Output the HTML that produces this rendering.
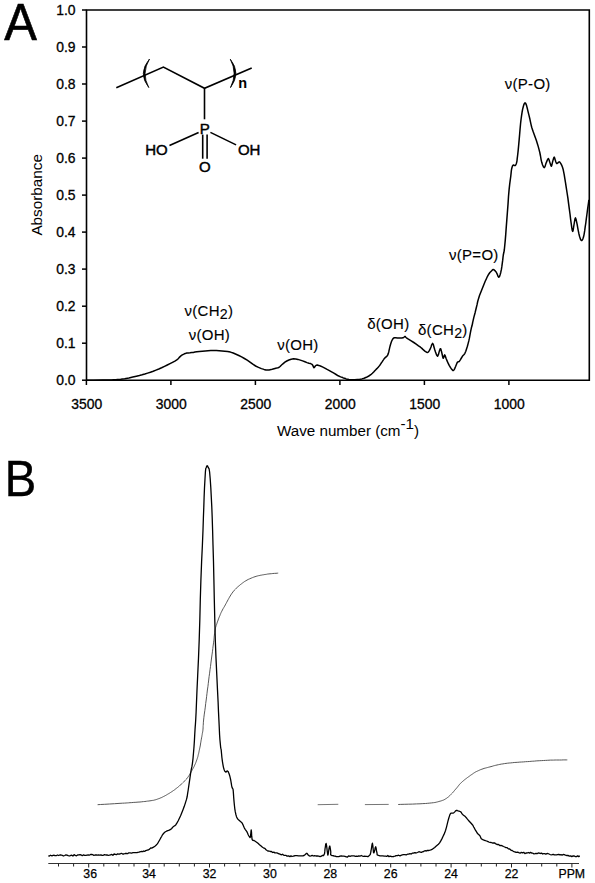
<!DOCTYPE html>
<html><head><meta charset="utf-8"><style>
html,body{margin:0;padding:0;background:#fff;}
body{width:595px;height:883px;overflow:hidden;font-family:"Liberation Sans",sans-serif;}
svg{display:block;}
</style></head><body>
<svg width="595" height="883" viewBox="0 0 595 883">
<text transform="translate(4.2 39.7) scale(0.96 1)" font-size="51" stroke="#000" stroke-width="0.6" font-family="'Liberation Sans', sans-serif">A</text>
<text transform="translate(4.6 495.6) scale(0.95 1)" font-size="50.3" stroke="#000" stroke-width="0.3" font-family="'Liberation Sans', sans-serif">B</text>
<path d="M86.5 10 H589.3 V380.2 H86.5 Z" fill="none" stroke="#000" stroke-width="1.6"/>
<line x1="82" y1="380.2" x2="86.5" y2="380.2" stroke="#000" stroke-width="1.5"/>
<text x="75.6" y="385.1" font-size="13.9" text-anchor="end" stroke="#000" stroke-width="0.3" font-family="'Liberation Sans', sans-serif">0.0</text>
<line x1="82" y1="343.2" x2="86.5" y2="343.2" stroke="#000" stroke-width="1.5"/>
<text x="75.6" y="348.1" font-size="13.9" text-anchor="end" stroke="#000" stroke-width="0.3" font-family="'Liberation Sans', sans-serif">0.1</text>
<line x1="82" y1="306.2" x2="86.5" y2="306.2" stroke="#000" stroke-width="1.5"/>
<text x="75.6" y="311.1" font-size="13.9" text-anchor="end" stroke="#000" stroke-width="0.3" font-family="'Liberation Sans', sans-serif">0.2</text>
<line x1="82" y1="269.1" x2="86.5" y2="269.1" stroke="#000" stroke-width="1.5"/>
<text x="75.6" y="274" font-size="13.9" text-anchor="end" stroke="#000" stroke-width="0.3" font-family="'Liberation Sans', sans-serif">0.3</text>
<line x1="82" y1="232.1" x2="86.5" y2="232.1" stroke="#000" stroke-width="1.5"/>
<text x="75.6" y="237" font-size="13.9" text-anchor="end" stroke="#000" stroke-width="0.3" font-family="'Liberation Sans', sans-serif">0.4</text>
<line x1="82" y1="195.1" x2="86.5" y2="195.1" stroke="#000" stroke-width="1.5"/>
<text x="75.6" y="200" font-size="13.9" text-anchor="end" stroke="#000" stroke-width="0.3" font-family="'Liberation Sans', sans-serif">0.5</text>
<line x1="82" y1="158.1" x2="86.5" y2="158.1" stroke="#000" stroke-width="1.5"/>
<text x="75.6" y="163" font-size="13.9" text-anchor="end" stroke="#000" stroke-width="0.3" font-family="'Liberation Sans', sans-serif">0.6</text>
<line x1="82" y1="121.1" x2="86.5" y2="121.1" stroke="#000" stroke-width="1.5"/>
<text x="75.6" y="126" font-size="13.9" text-anchor="end" stroke="#000" stroke-width="0.3" font-family="'Liberation Sans', sans-serif">0.7</text>
<line x1="82" y1="84" x2="86.5" y2="84" stroke="#000" stroke-width="1.5"/>
<text x="75.6" y="88.9" font-size="13.9" text-anchor="end" stroke="#000" stroke-width="0.3" font-family="'Liberation Sans', sans-serif">0.8</text>
<line x1="82" y1="47" x2="86.5" y2="47" stroke="#000" stroke-width="1.5"/>
<text x="75.6" y="51.9" font-size="13.9" text-anchor="end" stroke="#000" stroke-width="0.3" font-family="'Liberation Sans', sans-serif">0.9</text>
<line x1="82" y1="10" x2="86.5" y2="10" stroke="#000" stroke-width="1.5"/>
<text x="75.6" y="14.9" font-size="13.9" text-anchor="end" stroke="#000" stroke-width="0.3" font-family="'Liberation Sans', sans-serif">1.0</text>
<line x1="86.4" y1="380.2" x2="86.4" y2="385" stroke="#000" stroke-width="1.5"/>
<text x="86.7" y="409.0" font-size="13.9" text-anchor="middle" stroke="#000" stroke-width="0.3" font-family="'Liberation Sans', sans-serif">3500</text>
<line x1="170.9" y1="380.2" x2="170.9" y2="385" stroke="#000" stroke-width="1.5"/>
<text x="171.2" y="409.0" font-size="13.9" text-anchor="middle" stroke="#000" stroke-width="0.3" font-family="'Liberation Sans', sans-serif">3000</text>
<line x1="255.4" y1="380.2" x2="255.4" y2="385" stroke="#000" stroke-width="1.5"/>
<text x="255.7" y="409.0" font-size="13.9" text-anchor="middle" stroke="#000" stroke-width="0.3" font-family="'Liberation Sans', sans-serif">2500</text>
<line x1="339.9" y1="380.2" x2="339.9" y2="385" stroke="#000" stroke-width="1.5"/>
<text x="340.2" y="409.0" font-size="13.9" text-anchor="middle" stroke="#000" stroke-width="0.3" font-family="'Liberation Sans', sans-serif">2000</text>
<line x1="424.4" y1="380.2" x2="424.4" y2="385" stroke="#000" stroke-width="1.5"/>
<text x="424.7" y="409.0" font-size="13.9" text-anchor="middle" stroke="#000" stroke-width="0.3" font-family="'Liberation Sans', sans-serif">1500</text>
<line x1="508.9" y1="380.2" x2="508.9" y2="385" stroke="#000" stroke-width="1.5"/>
<text x="509.2" y="409.0" font-size="13.9" text-anchor="middle" stroke="#000" stroke-width="0.3" font-family="'Liberation Sans', sans-serif">1000</text>
<text x="277" y="436.2" font-size="15.2" font-family="'Liberation Sans', sans-serif">Wave number (cm<tspan dy="-7.6">-1</tspan><tspan dy="7.6">)</tspan></text>
<text transform="translate(42.3 194.8) rotate(-90)" font-size="15.3" text-anchor="middle" font-family="'Liberation Sans', sans-serif">Absorbance</text>
<text x="208.9" y="315.8" font-size="15" letter-spacing="0.3" text-anchor="middle" stroke="#000" stroke-width="0.12" font-family="'Liberation Sans', sans-serif">&#957;(CH<tspan dy="3" font-size="14.2">2</tspan><tspan dy="-3">)</tspan></text>
<text x="209.4" y="340" font-size="15" letter-spacing="0.3" text-anchor="middle" stroke="#000" stroke-width="0.12" font-family="'Liberation Sans', sans-serif">&#957;(OH)</text>
<text x="297.9" y="349.7" font-size="15" letter-spacing="0.3" text-anchor="middle" stroke="#000" stroke-width="0.12" font-family="'Liberation Sans', sans-serif">&#957;(OH)</text>
<text x="388.3" y="328.8" font-size="15" letter-spacing="0.3" text-anchor="middle" stroke="#000" stroke-width="0.12" font-family="'Liberation Sans', sans-serif">&#948;(OH)</text>
<text x="442.8" y="335.2" font-size="15" letter-spacing="0.3" text-anchor="middle" stroke="#000" stroke-width="0.12" font-family="'Liberation Sans', sans-serif">&#948;(CH<tspan dy="3" font-size="14.2">2</tspan><tspan dy="-3">)</tspan></text>
<text x="473.8" y="259.8" font-size="15" letter-spacing="0.3" text-anchor="middle" stroke="#000" stroke-width="0.12" font-family="'Liberation Sans', sans-serif">&#957;(P=O)</text>
<text x="527.7" y="89.4" font-size="15" letter-spacing="0.3" text-anchor="middle" stroke="#000" stroke-width="0.12" font-family="'Liberation Sans', sans-serif">&#957;(P-O)</text>
<g fill="none" stroke="#000" stroke-width="1.6" stroke-linejoin="miter">
<polyline points="116.3,87.8 163.4,67.1 204.5,88.3 251.7,68.1"/>
<line x1="204.5" y1="88.3" x2="204.5" y2="119.3"/>
<line x1="198.6" y1="132.4" x2="169.5" y2="145.5"/>
<line x1="210.4" y1="132.4" x2="236.1" y2="144.9"/>
<line x1="202.7" y1="134.6" x2="202.7" y2="158.7"/>
<line x1="207.1" y1="134.6" x2="207.1" y2="158.7"/>
</g>
<path d="M149.5 59 Q137.45 73.3 148.8 87.6 Q141.05 73.3 149.5 59 Z" fill="#000" stroke="#000" stroke-width="0.8" stroke-linejoin="round"/>
<path d="M230.3 59.2 Q241.4 73 230.5 87.6 Q237.8 73 230.3 59.2 Z" fill="#000" stroke="#000" stroke-width="0.8" stroke-linejoin="round"/>
<text x="238.2" y="87.9" font-size="14.5" font-weight="bold" font-family="'Liberation Sans', sans-serif">n</text>
<text x="204.8" y="133.5" font-size="15" text-anchor="middle" stroke="#000" stroke-width="0.45" font-family="'Liberation Sans', sans-serif">P</text>
<text x="156.4" y="155" font-size="15" text-anchor="middle" stroke="#000" stroke-width="0.45" font-family="'Liberation Sans', sans-serif">HO</text>
<text x="249.2" y="155" font-size="15" text-anchor="middle" stroke="#000" stroke-width="0.45" font-family="'Liberation Sans', sans-serif">OH</text>
<text x="204.9" y="171.8" font-size="15" text-anchor="middle" stroke="#000" stroke-width="0.45" font-family="'Liberation Sans', sans-serif">O</text>
<polyline points="86.5,380.2 93.3,380.2 102.9,380.1 111.2,379.9 116.6,379.6 120.7,379.2 124.7,378.7 128.9,378 132.8,377.1 136.4,376.2 139.4,375.5 142.1,374.8 144.8,374 147.6,373.1 150.4,372.2 153.2,371.2 156,370.1 158.8,369 161.6,367.8 164.5,366.4 167.3,365 170,363.6 172.5,362.3 174.9,361.1 176.8,359.9 178.2,358.7 179.1,357.6 180.1,356.6 181.2,355.7 182.3,354.9 183.4,354.3 184.4,353.8 185.5,353.4 186.7,353.1 188.3,352.9 190,352.8 191.8,352.6 193.3,352.4 194.9,352.1 196.8,351.8 199.3,351.5 202.3,351.2 205.2,350.9 208,350.7 210.8,350.6 213.6,350.6 216.4,350.6 219.2,350.7 222,350.9 224.8,351.2 227.6,351.5 230.4,352.1 233.2,353 236,354.2 238.8,355.5 241.6,356.9 244.4,358.5 247.2,360.2 250,362.1 252.8,364.2 255.6,366 258.5,367.4 261.4,368.6 264,369.4 265.9,369.9 267.5,370 269.1,369.9 271.1,369.6 273.1,369 275,368.5 276.6,368.1 278,367.7 279.2,367.2 280.1,366.5 280.8,365.7 281.8,364.8 283.2,363.6 284.9,362.2 286.8,361 288.9,360 291.2,359.2 293.5,358.8 295.8,358.9 298,359.4 300.3,360.1 302.6,360.9 304.9,361.8 307,362.6 308.9,363.2 310.6,363.6 312,364.3 312.9,365.5 313.4,366.9 314,367.7 314.6,367.2 315.3,366 316.2,365.2 317.4,365.1 318.7,365.4 320.4,366 322.4,366.9 324.8,368.1 327.1,369.4 329.4,370.6 331.6,371.9 333.9,373.2 336.1,374.5 338.2,375.8 340.6,376.9 341.9,377.3 343.3,377.9 344.7,378.2 346.1,378.9 349,379.5 351.9,379.7 354.7,379.7 357.4,379.5 359.8,379.3 361.9,378.9 364.1,378.3 366.4,377.3 368.8,376 370.8,374.7 372.4,373.3 373.7,372 374.8,370.7 375.8,369.7 376.6,368.9 377.5,368 378.4,367 379.3,365.9 380.2,364.7 381.1,363.3 382.1,361.9 382.9,360.6 383.6,359.6 384.2,358.7 384.9,357.9 385.8,357.1 386.8,356.3 387.6,355.3 388.1,354.1 388.5,352.8 388.9,351.2 389.3,349.3 389.8,347.2 390.3,345.2 390.9,343.2 391.6,341.3 392.3,339.8 392.9,338.8 393.4,338.2 394.3,337.8 395.7,337.7 397.4,337.9 399,338 400.5,338 401.8,338 403,337.8 403.8,337.3 404.5,336.7 405,336.4 405.3,336.5 405.5,337 406.4,337.8 408.4,339.1 411.2,340.8 413.8,342.5 416.2,344.1 418.5,345.8 420.5,347.2 421.9,348.4 422.9,349.4 424,350.3 425.2,351.3 426.5,352.2 427.6,352.5 428.5,351.9 429.3,350.7 430.1,349.2 431,347 431.8,344.6 432.6,343.4 433.3,344.4 433.9,346.7 434.6,349.2 435.5,352 436.6,355 437.6,356.3 438.5,354.4 439.4,350.9 440.2,348.7 440.8,349 441.2,350.5 441.7,352.3 442.2,354.5 442.7,356.9 443.2,358.3 443.7,357.6 444.2,355.8 444.7,354.8 445.1,355.5 445.6,357 446.2,358.8 447.1,360.9 448.1,363.2 449.2,365.4 450.4,367.4 451.7,369.3 452.8,370.4 453.6,370.4 454.2,369.6 454.8,368.4 455.6,366.5 456.5,364.2 457.3,362.4 458,361.8 458.6,361.8 459.3,361.3 460.3,359.8 461.4,358 462.4,356.3 463.3,355.3 464.1,354.5 464.9,353.3 465.8,351.3 466.6,348.8 467.4,346.2 468.1,343.6 468.8,340.9 469.4,338.2 469.9,335.4 470.4,332.7 470.9,330.1 471.4,327.8 472,325.8 472.4,324 472.6,323 472.7,322.3 473.1,320.6 473.9,317.1 475.1,312.7 476.1,308.5 477,304.9 477.7,301.5 478.6,298.4 479.5,295.6 480.5,293 481.6,290.3 482.8,287.3 484,284.2 485.2,281.3 486.4,278.7 487.5,276.3 488.7,274.2 489.9,272.5 491.2,271.2 492.2,270.2 492.8,269.7 493.2,269.5 493.7,269.7 494.5,270.2 495.4,271.1 496.3,272.2 497.2,274.1 498,276.2 498.8,277.2 499.5,276.4 500.2,274.5 500.8,272.2 501.4,269.4 501.9,266.2 502.3,263.1 502.7,260.2 503,257.4 503.3,255 503.6,253.5 503.9,252.3 504.3,250 504.7,246 505.2,240.9 505.7,234.9 506.2,227.9 506.8,220.1 507.4,212.3 508,204.4 508.5,196.5 509.1,189.6 509.7,184.1 510.3,179.7 510.8,176 511.1,173.1 511.3,171 511.6,169.2 512,167.5 512.5,166 513.1,165.1 513.7,165.1 514.5,165.5 515.1,165.6 515.7,165 516.2,164 516.6,162.6 517,160.8 517.2,158.6 517.6,155.5 518.1,151.1 518.6,145.9 519.1,140.4 519.6,134.6 520.1,128.6 520.6,123.3 521.1,119 521.6,115.4 522.1,112.2 522.6,109.4 523.2,107 523.7,105.1 524.2,103.9 524.6,103.2 525,102.9 525.4,103 525.8,103.6 526.2,104.6 526.7,106.1 527.2,108 527.7,110.2 528.3,112.6 529,115.4 529.7,118.2 530.3,121.2 531,124.4 531.7,127.3 532.5,129.7 533.3,132 534.2,134.4 535.2,137.3 536.3,140.3 537.3,143.4 538.2,146.4 539,149.4 539.8,152.5 540.5,156 541.1,159.6 541.8,162.6 542.6,165 543.5,166.9 544.3,167.6 545,166.6 545.6,164.6 546.3,162.6 547,160.9 547.7,159.3 548.4,158.6 548.9,159.4 549.4,161 549.9,162.6 550.4,164.1 550.9,165.6 551.4,166.1 551.9,164.9 552.4,162.6 552.9,160.6 553.4,159 553.8,157.7 554.2,157.1 554.6,157.8 555,159.2 555.4,160.6 555.8,161.8 556.3,163 556.9,163.6 557.6,163.2 558.5,162.2 559.3,161.8 560,162.4 560.7,163.4 561.4,164.7 562,165.9 562.5,167.3 563.1,169.2 563.6,171.7 564.2,174.7 564.8,178.3 565.5,182.7 566.3,187.8 567.1,193 567.9,198.2 568.6,203.6 569.3,208.8 570,214 570.6,219.1 571.2,223.5 571.7,227.2 572.2,230.2 572.7,231.4 573.2,229.9 573.7,226.5 574.2,223.5 574.6,221 575,218.8 575.5,217.9 576,219.2 576.6,221.8 577.2,224.7 577.7,227.6 578.3,230.8 578.9,233.7 579.6,236.5 580.4,239.1 581.2,240.5 582,240.4 582.8,239.1 583.5,237.1 584.1,234.3 584.7,230.7 585.2,226.9 585.8,223 586.3,218.9 586.9,214.5 587.6,209.2 588.4,203.7 588.9,199.8" fill="none" stroke="#000" stroke-width="1.5" stroke-linejoin="round"/>
<line x1="48.3" y1="863.5" x2="579" y2="863.5" stroke="#333" stroke-width="1"/>
<line x1="58.5" y1="863.5" x2="58.5" y2="866.5" stroke="#222" stroke-width="1"/>
<line x1="73.6" y1="863.5" x2="73.6" y2="866.5" stroke="#222" stroke-width="1"/>
<line x1="88.7" y1="863.5" x2="88.7" y2="867.5" stroke="#222" stroke-width="1"/>
<line x1="103.8" y1="863.5" x2="103.8" y2="866.5" stroke="#222" stroke-width="1"/>
<line x1="118.9" y1="863.5" x2="118.9" y2="866.5" stroke="#222" stroke-width="1"/>
<line x1="134" y1="863.5" x2="134" y2="866.5" stroke="#222" stroke-width="1"/>
<line x1="149.1" y1="863.5" x2="149.1" y2="867.5" stroke="#222" stroke-width="1"/>
<line x1="164.2" y1="863.5" x2="164.2" y2="866.5" stroke="#222" stroke-width="1"/>
<line x1="179.3" y1="863.5" x2="179.3" y2="866.5" stroke="#222" stroke-width="1"/>
<line x1="194.4" y1="863.5" x2="194.4" y2="866.5" stroke="#222" stroke-width="1"/>
<line x1="209.5" y1="863.5" x2="209.5" y2="867.5" stroke="#222" stroke-width="1"/>
<line x1="224.6" y1="863.5" x2="224.6" y2="866.5" stroke="#222" stroke-width="1"/>
<line x1="239.7" y1="863.5" x2="239.7" y2="866.5" stroke="#222" stroke-width="1"/>
<line x1="254.8" y1="863.5" x2="254.8" y2="866.5" stroke="#222" stroke-width="1"/>
<line x1="269.9" y1="863.5" x2="269.9" y2="867.5" stroke="#222" stroke-width="1"/>
<line x1="285" y1="863.5" x2="285" y2="866.5" stroke="#222" stroke-width="1"/>
<line x1="300.1" y1="863.5" x2="300.1" y2="866.5" stroke="#222" stroke-width="1"/>
<line x1="315.2" y1="863.5" x2="315.2" y2="866.5" stroke="#222" stroke-width="1"/>
<line x1="330.3" y1="863.5" x2="330.3" y2="867.5" stroke="#222" stroke-width="1"/>
<line x1="345.4" y1="863.5" x2="345.4" y2="866.5" stroke="#222" stroke-width="1"/>
<line x1="360.5" y1="863.5" x2="360.5" y2="866.5" stroke="#222" stroke-width="1"/>
<line x1="375.6" y1="863.5" x2="375.6" y2="866.5" stroke="#222" stroke-width="1"/>
<line x1="390.7" y1="863.5" x2="390.7" y2="867.5" stroke="#222" stroke-width="1"/>
<line x1="405.8" y1="863.5" x2="405.8" y2="866.5" stroke="#222" stroke-width="1"/>
<line x1="420.9" y1="863.5" x2="420.9" y2="866.5" stroke="#222" stroke-width="1"/>
<line x1="436" y1="863.5" x2="436" y2="866.5" stroke="#222" stroke-width="1"/>
<line x1="451.1" y1="863.5" x2="451.1" y2="867.5" stroke="#222" stroke-width="1"/>
<line x1="466.2" y1="863.5" x2="466.2" y2="866.5" stroke="#222" stroke-width="1"/>
<line x1="481.3" y1="863.5" x2="481.3" y2="866.5" stroke="#222" stroke-width="1"/>
<line x1="496.4" y1="863.5" x2="496.4" y2="866.5" stroke="#222" stroke-width="1"/>
<line x1="511.5" y1="863.5" x2="511.5" y2="867.5" stroke="#222" stroke-width="1"/>
<line x1="526.6" y1="863.5" x2="526.6" y2="866.5" stroke="#222" stroke-width="1"/>
<line x1="541.7" y1="863.5" x2="541.7" y2="866.5" stroke="#222" stroke-width="1"/>
<line x1="556.8" y1="863.5" x2="556.8" y2="866.5" stroke="#222" stroke-width="1"/>
<line x1="571.9" y1="863.5" x2="571.9" y2="867.5" stroke="#222" stroke-width="1"/>
<text x="90.2" y="878.2" font-size="12.3" text-anchor="middle" stroke="#000" stroke-width="0.25" font-family="'Liberation Sans', sans-serif">36</text>
<text x="149.1" y="878.2" font-size="12.3" text-anchor="middle" stroke="#000" stroke-width="0.25" font-family="'Liberation Sans', sans-serif">34</text>
<text x="209.5" y="878.2" font-size="12.3" text-anchor="middle" stroke="#000" stroke-width="0.25" font-family="'Liberation Sans', sans-serif">32</text>
<text x="269.9" y="878.2" font-size="12.3" text-anchor="middle" stroke="#000" stroke-width="0.25" font-family="'Liberation Sans', sans-serif">30</text>
<text x="330.3" y="878.2" font-size="12.3" text-anchor="middle" stroke="#000" stroke-width="0.25" font-family="'Liberation Sans', sans-serif">28</text>
<text x="390.7" y="878.2" font-size="12.3" text-anchor="middle" stroke="#000" stroke-width="0.25" font-family="'Liberation Sans', sans-serif">26</text>
<text x="451.1" y="878.2" font-size="12.3" text-anchor="middle" stroke="#000" stroke-width="0.25" font-family="'Liberation Sans', sans-serif">24</text>
<text x="511.5" y="878.2" font-size="12.3" text-anchor="middle" stroke="#000" stroke-width="0.25" font-family="'Liberation Sans', sans-serif">22</text>
<text x="571.8" y="878.2" font-size="12.3" text-anchor="middle" stroke="#000" stroke-width="0.25" font-family="'Liberation Sans', sans-serif">PPM</text>
<polyline points="97.6,804.7 100.5,804.5 104.7,804.3 109.5,804 114.5,803.7 119,803.4 122.4,803.2 124.6,803.1 126.1,803 127,802.9 127.8,802.9 128.7,802.8 130,802.7 131.8,802.6 133.8,802.4 135.9,802.3 138,802.1 140,802 141.8,801.8 143.4,801.6 144.9,801.5 146.3,801.3 147.6,801.1 148.9,801 150,800.8 151,800.7 151.9,800.5 152.7,800.4 153.5,800.3 154.2,800.1 155,799.9 155.8,799.7 156.7,799.4 157.5,799.1 158.3,798.8 159.2,798.5 160,798.2 160.8,797.8 161.7,797.5 162.6,797 163.4,796.6 164.2,796.2 165,795.8 165.7,795.4 166.4,795 167.1,794.6 167.7,794.2 168.4,793.8 169.1,793.4 169.8,793 170.5,792.5 171.3,792 172,791.5 172.8,791 173.5,790.5 174.3,790 175,789.4 175.8,788.8 176.6,788.2 177.4,787.6 178.1,787 178.8,786.4 179.5,785.8 180.1,785.2 180.8,784.7 181.4,784.1 182,783.5 182.6,782.9 183.2,782.4 183.8,781.9 184.3,781.3 184.9,780.8 185.4,780.2 185.9,779.6 186.5,779 187,778.3 187.5,777.7 188,777 188.5,776.3 189,775.6 189.5,774.8 189.9,774 190.4,773.2 190.9,772.4 191.3,771.6 191.7,770.9 192.1,770.2 192.5,769.5 192.9,768.7 193.3,768 193.7,767.3 194.1,766.5 194.4,765.8 194.8,765 195.1,764.2 195.5,763.4 195.8,762.6 196.1,761.8 196.4,761 196.7,760.1 197,759.3 197.3,758.4 197.6,757.5 197.9,756.6 198.1,755.6 198.3,754.6 198.6,753.7 198.8,752.7 199,751.7 199.2,750.7 199.4,749.8 199.6,748.9 199.8,747.9 200,747 200.2,746 200.4,745 200.5,744 200.7,742.9 200.9,741.9 201,740.9 201.2,739.9 201.4,739 201.5,738 201.7,737.2 201.9,736.3 202,735.4 202.2,734.5 202.3,733.6 202.5,732.8 202.6,732 202.8,731.2 202.9,730.2 203,729.1 203.1,727.9 203.1,726.7 203.2,725.5 203.3,724 203.4,722.2 203.6,720 203.9,717.3 204.3,714.1 204.8,710.7 205.3,707.1 205.7,703.5 206.2,700 206.6,696.7 207,693.3 207.4,690 207.9,686.7 208.3,683.3 208.7,680 209.1,676.6 209.6,673.2 210,669.8 210.5,666.4 210.9,663.1 211.3,660 211.7,657 212.1,654.1 212.5,651.2 212.8,648.6 213.1,646.1 213.4,644 213.6,642.2 213.8,640.8 213.9,639.7 214,638.6 214.1,637.6 214.2,636.4 214.4,635.1 214.5,633.8 214.7,632.4 214.9,631.1 215.1,629.9 215.3,628.8 215.5,627.8 215.7,627 216,626.2 216.2,625.4 216.5,624.7 216.8,623.8 217.1,622.9 217.4,621.9 217.8,621 218.1,620 218.5,618.9 218.9,617.9 219.3,616.8 219.8,615.8 220.2,614.7 220.7,613.5 221.2,612.4 221.8,611.2 222.4,610 223.1,608.7 223.8,607.5 224.6,606.2 225.3,604.9 226,603.6 226.7,602.3 227.4,601 228.1,599.7 228.8,598.4 229.5,597.2 230.2,596 230.9,594.9 231.5,593.9 232.2,593 232.9,592 233.6,591.1 234.4,590.2 235.3,589.3 236.2,588.3 237.2,587.4 238.2,586.5 239.3,585.6 240.3,584.7 241.4,583.9 242.4,583.1 243.5,582.3 244.6,581.5 245.8,580.8 247,580.1 248.3,579.4 249.7,578.8 251.1,578.2 252.5,577.6 253.8,577.1 255,576.7 256,576.4 256.9,576.1 257.7,575.9 258.4,575.7 259.2,575.6 260,575.4 260.8,575.2 261.7,575.1 262.5,574.9 263.3,574.8 264.2,574.6 265,574.5 265.8,574.4 266.5,574.3 267.3,574.1 268.1,574 269,573.9 270,573.8 271.3,573.7 272.8,573.5 274.4,573.4 276,573.3 277.3,573.2 278.2,573.1" fill="none" stroke="#444" stroke-width="0.9"/>
<line x1="317.7" y1="804.7" x2="338.3" y2="804.3" stroke="#666" stroke-width="0.9"/>
<line x1="364.9" y1="804.6" x2="388.7" y2="804.4" stroke="#666" stroke-width="0.9"/>
<polyline points="398.2,804.5 400.7,804.4 404.2,804.3 408.3,804.2 412.5,804.1 416.6,803.9 420,803.8 422.8,803.6 425.4,803.5 427.7,803.3 429.8,803.1 431.7,802.9 433.4,802.7 434.8,802.5 435.9,802.3 436.7,802.1 437.5,801.9 438.2,801.7 439,801.5 439.9,801.2 440.8,801 441.7,800.7 442.5,800.4 443.4,800.1 444.2,799.7 445,799.3 445.7,798.8 446.4,798.4 447.1,797.9 447.8,797.3 448.5,796.8 449.2,796.2 449.8,795.6 450.4,795 451,794.4 451.6,793.7 452.3,793 453,792.3 453.7,791.5 454.4,790.6 455.1,789.8 455.8,789 456.5,788.2 457.2,787.4 457.8,786.6 458.4,785.8 459,785.1 459.6,784.3 460.3,783.6 461,782.9 461.7,782.2 462.4,781.6 463.1,781 463.8,780.4 464.5,779.8 465.2,779.3 465.8,778.8 466.5,778.3 467.1,777.8 467.7,777.4 468.4,776.9 469.1,776.4 469.8,775.9 470.4,775.4 471.1,774.9 471.8,774.5 472.5,774 473.1,773.6 473.7,773.1 474.4,772.7 475,772.3 475.7,771.9 476.5,771.5 477.4,771.1 478.5,770.6 479.6,770.1 480.7,769.6 481.9,769.2 483,768.8 484.1,768.4 485.3,768.1 486.4,767.8 487.6,767.5 488.7,767.2 489.9,766.9 491,766.6 492.2,766.3 493.3,765.9 494.5,765.6 495.7,765.3 497,765 498.4,764.7 499.8,764.4 501.3,764.1 502.9,763.9 504.4,763.6 506,763.4 507.6,763.2 509.2,763 510.8,762.9 512.5,762.7 514.2,762.5 516,762.4 517.8,762.3 519.8,762.1 521.7,762 523.7,761.9 525.6,761.7 527.5,761.6 529.3,761.5 531.1,761.3 532.8,761.2 534.5,761.1 536.2,760.9 538,760.8 539.8,760.7 541.7,760.6 543.6,760.5 545.5,760.4 547.3,760.3 549,760.2 550.6,760.1 552.1,760.1 553.6,760.1 555.1,760 556.5,760 558,760 559.6,760 561.4,760 563.2,759.9 564.9,759.9 566.3,759.9 567.3,759.9" fill="none" stroke="#444" stroke-width="0.9"/>
<polyline points="48.3,855.8 49.4,856 50.5,855.2 51.6,855.8 52.8,855.5 53.9,855.1 55,855.7 56.2,855.7 57.4,855 58.6,855.5 59.8,855 61.1,855 62.3,855.4 63.5,856 64.7,855.5 65.9,854.9 67,855.1 68.2,855.6 69.4,856 70.6,855.5 71.8,855.2 72.9,856 74.1,854.7 75.3,855.3 76.5,855.8 77.6,855 78.8,854.8 80,854.7 81.2,855 82.3,855.7 83.5,854.8 84.7,855.3 85.9,855.4 87,855.2 88.2,855 89.3,855.2 90.5,854.5 91.6,854.5 92.8,854.7 93.9,855.4 95.1,855 96.3,854.8 97.4,855.2 98.6,855 99.7,855.1 100.9,854.8 102.1,855.4 103.3,855.3 104.5,854.6 105.8,855 107,854.9 108.2,855.4 109.4,855.2 110.6,854.8 111.8,854.4 112.9,855.3 114.1,854 115.3,854.3 116.4,854.7 117.6,853.8 118.7,854.2 120,854 121.3,853.3 122.6,854 123.8,854 125.1,853.5 126.3,853.4 127.6,853.7 128.8,852.8 130,852.9 131.5,853.1 133,852.7 134.4,852.7 135.9,852.6 136.9,852.6 137.9,852.3 138.9,852.2 139.8,851.8 140.8,851.6 141.8,851.4 142.8,851.7 143.7,851 144.7,851.4 145.7,850.6 146.6,850.3 147.6,850 148.6,849.8 149.6,849.1 150.7,848 151.7,848.1 153.5,847.1 154.9,846.2 156,845.3 157.1,844.1 158.3,842.3 159.5,840.2 160.6,838.2 161.6,836.5 162.5,834.8 163.5,833.5 164.5,832.5 165.4,831.8 166.5,831.2 167.8,830.6 169.3,830.1 170.6,829.4 171.7,828.5 172.6,827.4 173.5,826.5 174.3,826 175,825.6 175.9,824.7 177,822.9 178.2,820.7 179.4,818.2 180.6,815.7 181.7,813 182.9,810 184.2,806.6 185.4,802.9 186.5,799.4 187.2,796.5 187.6,793.7 188.2,790 189,784.3 190,777.6 190.8,772 191.4,768.8 191.9,766.7 192.4,763.6 193,758.6 193.5,752.7 194,746.8 194.4,740.9 194.7,735.1 195,730 195.2,726.9 195.4,724.6 195.7,720 196.1,712.2 196.5,702.2 197,690 197.7,675.2 198.5,658.1 199.2,640 199.8,620.4 200.3,599.6 200.9,580 201.6,561.9 202.4,545 203,530 203.4,517.6 203.8,507.1 204.1,497.4 204.5,487.6 205,478.7 205.4,472 205.7,468.9 206,468 206.3,467.5 206.6,466.5 206.9,465.9 207.2,465.6 207.5,465.9 207.8,466.5 208.2,467.5 208.6,468 209.1,468.9 209.6,472 210.2,478.7 210.8,487.6 211.3,497.4 211.8,507.1 212.2,517.6 212.6,530 213,545 213.5,561.9 213.9,580 214.3,599.6 214.8,620.4 215.3,640 216,658.1 216.8,675.2 217.5,690 218.1,702 218.5,711.9 218.9,720 219.2,726.2 219.4,730.8 219.6,735 219.9,739.5 220.3,743.6 220.6,746.8 220.8,748.2 221,748.7 221.2,750 221.5,753.3 221.9,757.5 222.4,761.3 222.9,764.4 223.4,767.1 224,769.2 224.6,770.7 225.1,771.6 225.7,772.1 226.3,771.9 226.8,771.1 227.4,770.9 228,771.4 228.5,772.4 229.1,773.8 229.7,775.7 230.3,778.1 230.8,780.5 231.2,782.9 231.6,785.4 232,787.3 232.4,788.2 232.8,788.6 233.1,789.6 233.3,791.7 233.5,794.4 233.7,797.5 234,801.1 234.4,805.2 234.8,808.8 235.3,811.9 235.9,814.5 236.5,816.7 237.2,818.2 237.9,819.2 238.8,820.1 239.9,821 241,821.9 242.1,823 242.9,824.6 243.7,826.5 244.4,828.1 245.2,829.3 245.9,830.3 246.7,831.4 247.5,833 248.2,834.7 248.9,836 249.5,836.9 250,837.5 250.4,837.1 250.7,834.7 251,831.3 251.2,829.8 251.5,832.1 251.7,836.2 252.1,839.4 252.6,840.3 253.2,840.3 254,840.5 255.2,841.3 256.6,842.2 258,843.3 259.5,844.7 261.1,846.1 262.5,847.3 263.4,847.8 264.1,848.1 264.8,848.4 265.4,849 266,849.8 267.1,850.5 268.1,851.1 269,851 270.2,851.5 271.4,851.5 272.6,852.5 273.8,852.1 274.9,852.9 275.9,852.8 277,852.9 278.1,853.5 279.3,853.8 280.5,854.3 281.5,854.8 282.6,854.2 283.6,855.2 284.7,855.4 285.8,855.3 287,856.1 288.4,855.8 289.9,856.6 291,855.9 292,856.5 293.7,856 295.3,855.6 296.9,855.6 298.5,855.8 300,855.9 301.4,855.9 302.8,855.8 304,855.5 305,854.7 306,853.7 306.8,853.2 307.4,853.7 307.9,854.8 309,855.6 310,856.1 311,855.9 312.2,855.4 313.5,856 314.7,855.6 316,856 317.3,855.9 318.7,856.2 320.1,856.7 321.4,856.2 322.5,855.3 323.5,855.6 324.5,853.8 324.8,851.4 325,849 325.4,846.6 325.7,844.3 326.1,843.4 326.5,845.1 326.9,848.2 327.2,851 327.5,853 327.7,854.6 327.9,855.2 328.2,854.1 328.5,852 328.8,850 329.1,848.2 329.5,846.5 329.8,846 330.1,847.3 330.5,849.8 330.8,852 330.7,853.5 330.6,854.7 331.8,855.6 332.9,855.7 334.1,856 335.2,856.1 336.4,856.7 337.6,856.6 338.8,856.7 340,856.2 341.3,855.9 342.5,856.1 343.8,856.1 345,856.3 346.3,856.8 347.5,857 348.8,855.8 350.1,856.3 351.4,855.9 352.7,855.9 354.1,855.9 355.4,856.3 356.5,856.2 357.7,856.4 358.8,855.9 360,856.2 361.2,855.5 362.5,856.1 363.7,856.3 364.7,856.1 365.7,856.4 366.7,856.3 367.9,856.7 369,855.8 370.2,854.6 370.6,853 371,851 371.5,848 372,844.6 372.4,843.1 372.8,845.4 373.2,849.5 373.5,852.5 373.8,852.9 374.2,852.1 374.5,851 374.9,849.4 375.3,847.5 375.7,846.8 376.1,848.2 376.5,850.8 377,853 377.1,854.1 377.2,854.8 378.5,855.3 380,855.8 381.5,855.8 382.8,855.9 384.2,856.2 385.5,856.1 386.7,856.4 387.8,855.5 389,856.7 390.1,856.2 391.4,856.5 392.7,856.6 393.9,856.5 395.2,856 396.3,855.7 397.5,855.7 398.6,855.2 399.7,855.8 400.8,855.5 402.2,854.8 403.5,854.6 404.9,854.6 406.2,854.9 407.5,854.2 408.7,854.2 410,853.6 411.3,854 412.5,853.1 413.7,853 414.9,852.7 416.1,853 417.5,852.5 418.9,851.7 420.3,852.1 421.4,852.4 422.5,851.8 423.6,851.5 424.9,850.7 426.3,851 427.3,850.4 428.4,850.5 429.9,850.2 430.9,849.9 432,849.4 433.3,848.5 434.7,847.4 436,846.2 437.2,845.2 438.4,844.2 439.6,842.9 440.8,840.9 442,838.6 443.1,836.3 444,834.4 444.8,832.6 445.6,830.3 446.5,827.1 447.4,823.4 448.2,820.2 448.9,817.7 449.6,815.6 450.2,814.1 450.7,813.4 451.2,813.2 451.7,813.1 452.3,813.1 453,813.1 453.7,812.9 454.5,812.1 455.4,811.1 456.2,810.4 456.9,810.3 457.5,810.6 458.2,810.9 459.1,811.2 460,811.5 460.8,811.9 461.3,812.5 461.7,813.3 462.3,814.1 463.2,814.9 464.2,815.7 465.3,816.6 466.3,817.7 467.2,818.9 468.3,820.2 469.7,821.7 471.1,823.2 472.4,824.7 473.2,825.9 473.7,827 474.4,828.2 475.3,829.9 476.4,831.7 477.4,833.3 478.3,834.3 479.2,835 479.9,835.8 480.4,836.8 480.8,837.9 481.4,838.8 482.3,839.4 483.4,839.9 484.5,840.3 485.5,840.7 486.5,841 487.5,841.3 488.1,841.6 488.7,842 490,842.4 491.2,842.5 492.4,843 493.5,843 494.5,842.9 495.5,843.6 497,844.5 498.5,844.4 499.8,845.6 501,845.4 502.3,845.9 503.5,846.5 504.7,847 505.9,847.6 507.2,847.7 508.4,848.9 509.7,849 511,850.2 512.1,850.5 513.3,851.3 515,852 516.5,852.4 517.6,852.2 518.8,852.7 520.1,853.2 521.3,852.4 522.6,852.9 523.7,852.3 524.9,853.6 526,853 527.2,853 528.3,852.5 529.5,853.1 530.6,852.4 531.8,853.1 532.9,853.2 534,853.9 535,853.7 536.1,853.3 537.2,853.6 538.3,853 539.3,853.2 540.4,853.5 541.5,853.1 542.6,854 543.6,853.7 544.7,853.7 545.8,854.2 546.8,853.6 547.9,853.5 549,854 550.1,854.5 551.1,854.8 552.2,854.7 553.3,854.3 554.4,854.8 555.4,854.9 556.5,854.9 557.6,854.6 558.7,854.3 559.8,854.9 561,854.7 562.1,855.1 563.2,854.5 564.3,854.6 565.4,855.1 566.5,855.5 567.9,855.3 569.2,856.1 570.6,855.9 571.8,856.6 573.1,855.9 574.3,856 575.4,856.6 576.5,856.6 577.6,855.9 578.7,856.6 579.8,855.9" fill="none" stroke="#000" stroke-width="1.3" stroke-linejoin="round"/>
</svg>
</body></html>
